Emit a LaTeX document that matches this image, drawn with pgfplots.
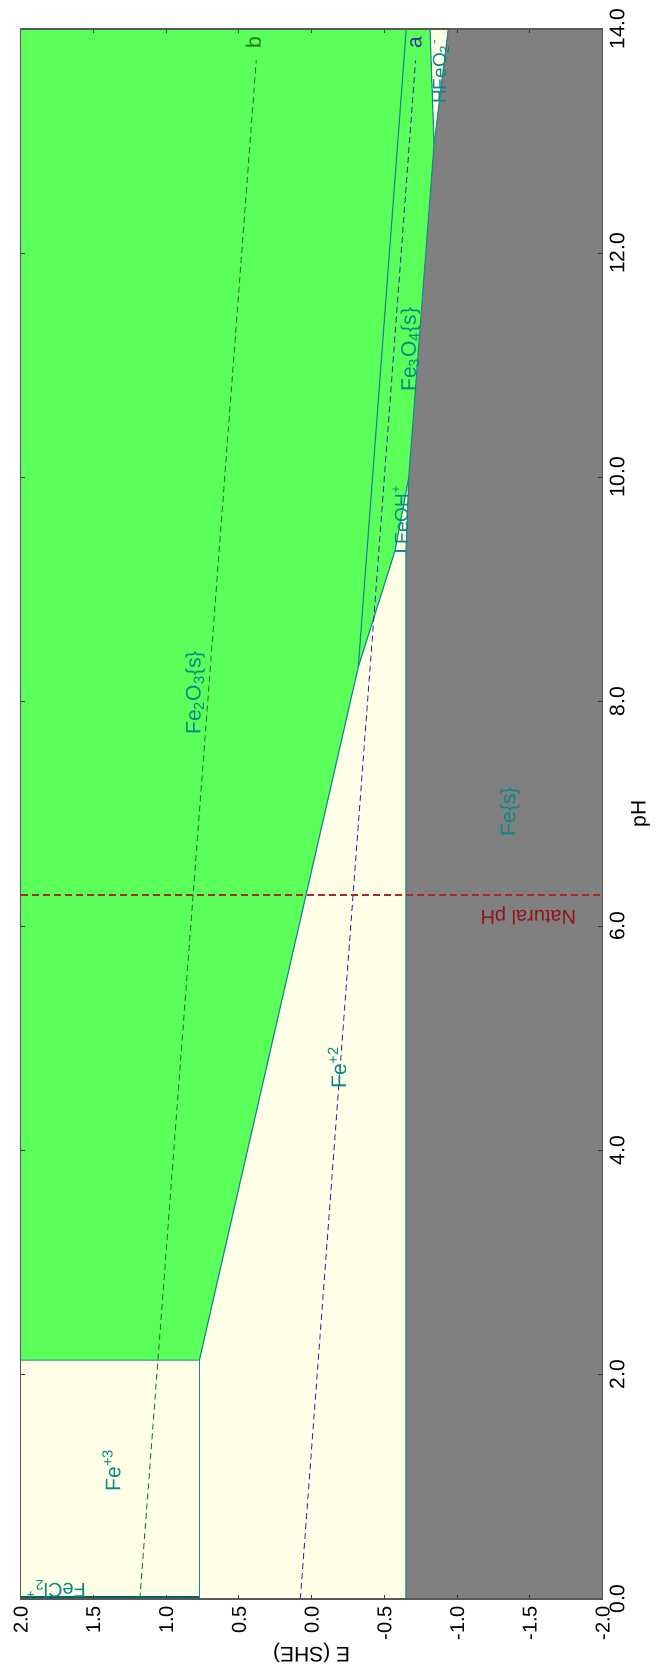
\documentclass[border=0pt]{standalone}
\usepackage{pgfplots}
\pgfplotsset{compat=1.18}
\usepackage{fontspec}
\setmainfont{Liberation Sans}
\definecolor{fegreen}{RGB}{90,255,90}
\definecolor{ivory}{RGB}{255,255,232}
\definecolor{fegray}{RGB}{128,128,128}
\definecolor{bnd}{RGB}{30,135,140}
\definecolor{lbl}{RGB}{10,135,135}
\definecolor{linea}{RGB}{50,50,165}
\definecolor{lineb}{RGB}{30,120,30}
\definecolor{natred}{RGB}{170,40,40}
\definecolor{natlbl}{RGB}{150,20,20}
\definecolor{fecl}{RGB}{0,100,100}
\begin{document}
\begin{tikzpicture}
\useasboundingbox (-10.35pt,-38pt) rectangle (317.15pt,799.5pt);
\begin{axis}[
  scale only axis, width=291pt, height=785pt,
  xmin=-2, xmax=2, ymin=0, ymax=14, x dir=reverse,
  axis on top,
  axis background/.style={fill=ivory},
  axis line style={draw=black!65, line width=0.6pt},
  xtick={-2,-1.5,-1,-0.5,0,0.5,1,1.5,2},
  ytick={0,2,4,6,8,10,12,14},
  tick align=inside, major tick length=2.2pt,
  tick style={black!80, line width=0.5pt},
  yticklabel pos=right,
  xticklabel style={rotate=90, anchor=east, font=\fontsize{10}{12}\selectfont},
  yticklabel style={rotate=90, anchor=north, font=\fontsize{10.5}{12}\selectfont},
  /pgf/number format/fixed,
  /pgf/number format/fixed zerofill,
  /pgf/number format/precision=1,
  /pgf/number format/assume math mode=true,
  xlabel={E (SHE)}, ylabel={pH},
  every axis x label/.style={at={(axis description cs:0.5,-0.0345)}, anchor=center, rotate=180, font=\fontsize{10.5}{12}\selectfont},
  every axis y label/.style={at={(axis description cs:1.065,0.5)}, anchor=center, rotate=90, font=\fontsize{10.5}{12}\selectfont},
]
% Fe(s) region
\addplot[fill=fegray, draw=none] coordinates {(-0.648,0) (-0.648,9.345) (-0.667,10) (-0.841,12.97) (-0.939,14) (-2,14) (-2,0)};
% Fe2O3(s) + Fe3O4(s) region
\addplot[fill=fegreen, draw=none] coordinates {(2,2.13) (0.772,2.13) (-0.32,8.31) (-0.572,9.345) (-0.667,10) (-0.841,12.97) (-0.813,14) (2,14)};
% FeCl2+ strip
\addplot[fill=fecl, draw=none] coordinates {(2,0) (0.772,0) (0.772,0.025) (2,0.025)};
% boundaries
\addplot[bnd, line width=0.6pt] coordinates {(0.772,0) (0.772,2.13)};
\addplot[bnd, line width=0.6pt] coordinates {(2,2.13) (0.772,2.13) (-0.32,8.31) (-0.572,9.345)};
\addplot[bnd, line width=0.6pt] coordinates {(-0.32,8.31) (-0.65,14)};
\addplot[bnd, line width=0.6pt] coordinates {(-0.648,0) (-0.648,9.345) (-0.667,10) (-0.841,12.97) (-0.939,14)};
\addplot[bnd, line width=0.6pt] coordinates {(-0.572,9.345) (-0.648,9.345)};
\addplot[bnd, line width=0.6pt] coordinates {(-0.572,9.345) (-0.667,10)};
\addplot[bnd, line width=0.6pt] coordinates {(-0.841,12.97) (-0.813,14)};
% water lines
\addplot[linea, line width=0.5pt, dash pattern=on 3pt off 2pt] coordinates {(0.078,0) (-0.714,13.72)};
\addplot[lineb, line width=0.5pt, dash pattern=on 3pt off 2pt] coordinates {(1.181,0) (0.381,13.72)};
% natural pH
\addplot[natred, line width=0.6pt, dash pattern=on 3.5pt off 2pt] coordinates {(2,6.277) (-2,6.277)};
% labels
\node[lbl, rotate=90, font=\fontsize{10.5}{12}\selectfont] at (axis cs:1.376,1.15) {Fe\textsuperscript{+3}};
\node[lbl, rotate=90, font=\fontsize{10.5}{12}\selectfont] at (axis cs:-0.175,4.74) {Fe\textsuperscript{+2}};
\node[lbl, rotate=90, font=\fontsize{10.5}{12}\selectfont] at (axis cs:0.80,8.08) {Fe\textsubscript{2}O\textsubscript{3}\{s\}};
\node[lbl, rotate=90, font=\fontsize{10.5}{12}\selectfont] at (axis cs:-0.678,11.14) {Fe\textsubscript{3}O\textsubscript{4}\{s\}};
\node[lbl, rotate=90, font=\fontsize{10.5}{12}\selectfont] at (axis cs:-1.363,7.02) {Fe\{s\}};
\node[lbl, rotate=90, font=\fontsize{9.5}{11}\selectfont] at (axis cs:-0.61,9.67) {FeOH\textsuperscript{+}};
\node[lbl, rotate=90, font=\fontsize{9.5}{11}\selectfont] at (axis cs:-0.889,13.62) {HFeO\textsubscript{2}\textsuperscript{-}};
\node[lbl, rotate=180, anchor=base west, font=\fontsize{10}{12}\selectfont] at (axis cs:1.503,0.14) {FeCl\textsubscript{2}\textsuperscript{+}};
\node[natlbl, rotate=180, font=\fontsize{10}{12}\selectfont] at (axis cs:-1.489,6.096) {Natural pH};
\node[linea, rotate=90, font=\fontsize{10.5}{12}\selectfont] at (axis cs:-0.717,13.88) {a};
\node[lineb, rotate=90, font=\fontsize{10.5}{12}\selectfont] at (axis cs:0.40,13.88) {b};
\end{axis}
\end{tikzpicture}
\end{document}
